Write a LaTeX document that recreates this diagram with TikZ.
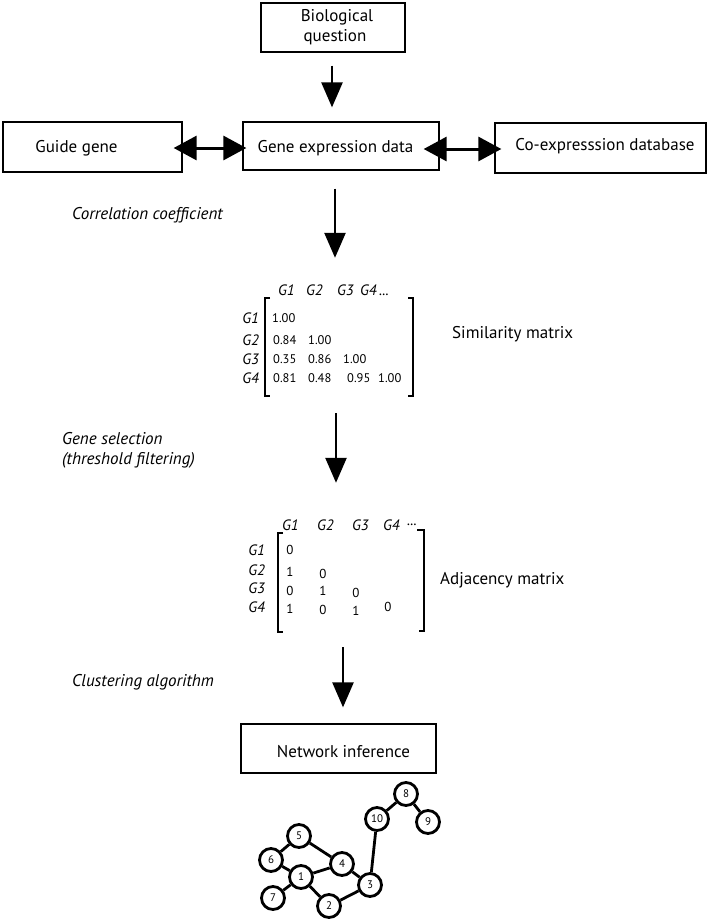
\documentclass[tikz,border=0pt]{standalone}
\usepackage{fontspec}
\setmainfont{PT Sans}
\usetikzlibrary{arrows.meta,calc}
\begin{document}
\begin{tikzpicture}[x=1pt,y=-1pt,
  box/.style={draw, line width=1.3pt, inner sep=0pt},
  lbl/.style={font=\fontsize{17}{20}\selectfont, inner sep=0pt},
  itl/.style={font=\fontsize{17}{20}\selectfont\itshape, inner sep=0pt, anchor=west},
  flow/.style={line width=2.5pt, -{Triangle[width=21pt,length=25pt]}},
  both/.style={line width=3pt, {Triangle[width=24pt,length=23pt]}-{Triangle[width=24pt,length=23pt]}},
  gl/.style={font=\fontsize{15}{18}\selectfont\itshape, inner sep=0pt},
  val/.style={font=\fontsize{12.5}{15}\selectfont, inner sep=0pt, anchor=west},
  av/.style={font=\fontsize{13}{15}\selectfont, inner sep=0pt},
  brk/.style={line width=1.2pt},
  region/.style={inner sep=0pt, draw=none},
  gn/.style={circle, draw, line width=2.8pt, fill=white, minimum size=23pt, inner sep=0pt, font=\fontsize{11}{12}\selectfont},
  ge/.style={line width=2.8pt}
]
\useasboundingbox (0,0) rectangle (709,922);

% boxes
\node[box, minimum width=144pt, minimum height=49pt] (bio) at (333,27.5) {};
\node[lbl] (biot1) at (337,17) {Biological};
\node[lbl] (biot2) at (335,37) {question};

\node[box, minimum width=179pt, minimum height=50pt] (guide) at (92.5,147) {};
\node[lbl] (guidet) at (76.5,148) {Guide gene};

\node[box, minimum width=196pt, minimum height=48pt] (gene) at (341,146) {};
\node[lbl] (genet) at (335.5,148) {Gene expression data};

\node[box, minimum width=211pt, minimum height=50pt] (co) at (600.5,148) {};
\node[lbl] (cot) at (605,146) {Co-expresssion database};

\node[box, minimum width=195pt, minimum height=49pt] (net) at (338.5,748.5) {};
\node[lbl] (nett) at (343.5,752) {Network inference};

% side labels
\node[itl] (corr) at (72,215) {Correlation coefficient};
\node[itl] (sel1) at (62,439) {Gene selection};
\node[itl] (sel2) at (62,460) {(threshold filtering)};
\node[itl] (clus) at (72,682) {Clustering algorithm};

% similarity matrix
\node[region, minimum width=148pt, minimum height=98pt] (simm) at (339,347) {};
\draw[brk] (270,298) -- (265,298) -- (265,396) -- (270,396);
\draw[brk] (408,298) -- (413,298) -- (413,396) -- (408,396);
\node[gl, anchor=west] (sh1) at (278,290) {G1};
\node[gl, anchor=west] (sh2) at (306,290) {G2};
\node[gl, anchor=west] (sh3) at (337,290) {G3};
\node[gl, anchor=west] (sh4) at (360,290) {G4\,...};
\node[gl, anchor=east] (sr1) at (259,318) {G1};
\node[gl, anchor=east] (sr2) at (259,340) {G2};
\node[gl, anchor=east] (sr3) at (259,359) {G3};
\node[gl, anchor=east] (sr4) at (259,378) {G4};
\node[val] (s11) at (272,318) {1.00};
\node[val] (s21) at (273,340) {0.84};
\node[val] (s22) at (308,340) {1.00};
\node[val] (s31) at (273,359) {0.35};
\node[val] (s32) at (308,359) {0.86};
\node[val] (s33) at (343,359) {1.00};
\node[val] (s41) at (273,378) {0.81};
\node[val] (s42) at (308,378) {0.48};
\node[val] (s43) at (347,378) {0.95};
\node[val] (s44) at (378,378) {1.00};
\node[lbl, anchor=west] (simt) at (452,334) {Similarity matrix};

% adjacency matrix
\node[region, minimum width=146pt, minimum height=101pt] (adjm) at (351,581.5) {};
\draw[brk] (283,533) -- (278,533) -- (278,632) -- (283,632);
\draw[brk] (417,530) -- (424,530) -- (424,631) -- (419,631);
\node[gl, anchor=west] (ah1) at (282,525) {G1};
\node[gl, anchor=west] (ah2) at (317,525) {G2};
\node[gl, anchor=west] (ah3) at (352,525) {G3};
\node[gl, anchor=west] (ah4) at (383,525) {G4};
\node[gl, anchor=west] (ah5) at (407,525) {...};
\node[gl, anchor=east] (ar1) at (265,550) {G1};
\node[gl, anchor=east] (ar2) at (265,570) {G2};
\node[gl, anchor=east] (ar3) at (265,588) {G3};
\node[gl, anchor=east] (ar4) at (265,607) {G4};
\node[av] (a11) at (290,550) {0};
\node[av] (a21) at (290,572) {1};
\node[av] (a22) at (323,574) {0};
\node[av] (a31) at (290,591) {0};
\node[av] (a32) at (323,591) {1};
\node[av] (a33) at (356,593) {0};
\node[av] (a41) at (290,609) {1};
\node[av] (a42) at (323,610) {0};
\node[av] (a43) at (356,611) {1};
\node[av] (a44) at (388,607) {0};
\node[lbl, anchor=west] (adjt) at (440,580) {Adjacency matrix};

% flow arrows
\draw[flow] ($(bio.south)+(-1,13)$) -- ($(gene.north)+(-9,-14)$);
\draw[both] ($(guide.east)+(-9,1)$) -- ($(gene.west)+(4,2)$);
\draw[both] ($(gene.east)+(-16,3)$) -- ($(co.west)+(7,1)$);
\draw[flow] ($(gene.south)+(-6,18)$) -- ($(simm.north)+(-4,-40)$);
\draw[flow] ($(simm.south)+(-3,17)$) -- ($(adjm.north)+(-15,-48)$);
\draw[flow] ($(adjm.south)+(-8,15)$) -- ($(net.north)+(4.5,-16)$);

% network
\node[gn] (n8) at (406,794) {8};
\node[gn] (n10) at (377,819) {10};
\node[gn] (n9) at (428,822) {9};
\node[gn] (n5) at (299,836) {5};
\node[gn] (n6) at (271,860) {6};
\node[gn] (n4) at (342,864) {4};
\node[gn] (n1) at (301,877) {1};
\node[gn] (n3) at (370,885) {3};
\node[gn] (n7) at (273,898) {7};
\node[gn] (n2) at (329,906) {2};
\draw[ge] (n8) -- (n10);
\draw[ge] (n8) -- (n9);
\draw[ge] (n10) -- (n3);
\draw[ge] (n5) -- (n6);
\draw[ge] (n5) -- (n4);
\draw[ge] (n6) -- (n1);
\draw[ge] (n1) -- (n4);
\draw[ge] (n1) -- (n7);
\draw[ge] (n1) -- (n2);
\draw[ge] (n2) -- (n3);
\draw[ge] (n4) -- (n3);
\end{tikzpicture}
\end{document}
